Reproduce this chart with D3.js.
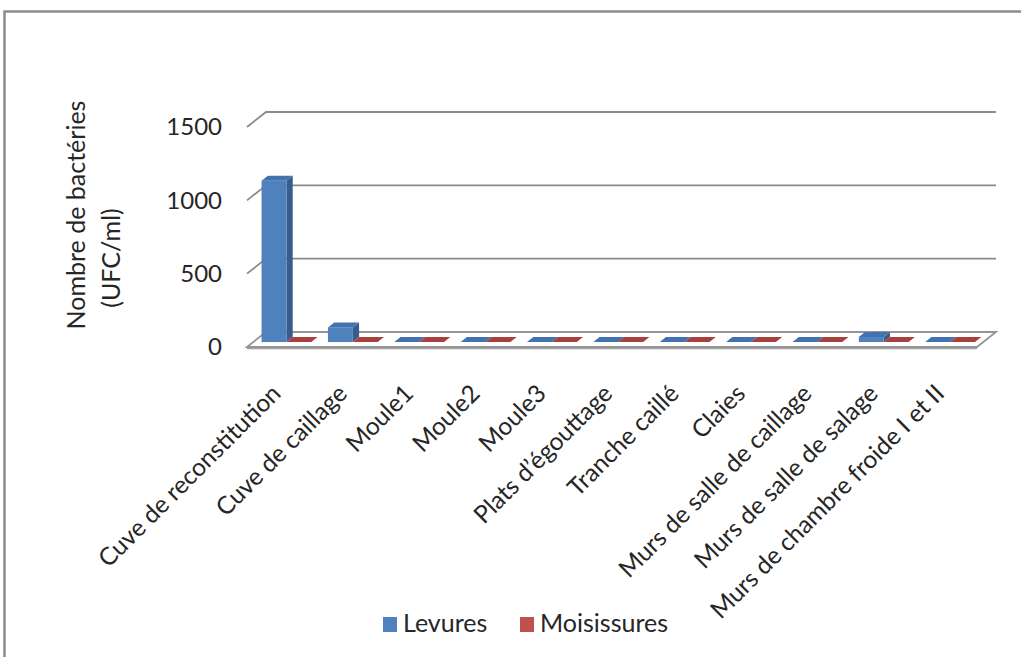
<!DOCTYPE html>
<html>
<head>
<meta charset="utf-8">
<script src="https://cdn.jsdelivr.net/npm/d3@7"></script>
<style>
  html, body { margin: 0; padding: 0; background: #ffffff; }
  svg { display: block; }
  text { font-family: Lato, "Open Sans", sans-serif; fill: #262626; }
</style>
</head>
<body>
<svg id="chart" width="1021" height="657"></svg>
<script>
// Sampling sites
const categories = [
  "Cuve de reconstitution",
  "Cuve de caillage",
  "Moule1",
  "Moule2",
  "Moule3",
  "Plats d\u2019égouttage",
  "Tranche caillé",
  "Claies",
  "Murs de salle de caillage",
  "Murs de salle de salage",
  "Murs de chambre froide I et II"
];
// Counts (UFC/ml)
const seriesNames = ["Levures", "Moisissures"];
const levures     = [1100, 100, 0, 0, 0, 0, 0, 0, 0, 35, 0];
const moisissures = [0, 0, 0, 0, 0, 0, 0, 0, 0, 0, 0];
const yTicks = [0, 500, 1000, 1500];
const yTitle = ["Nombre de bactéries", "(UFC/ml)"];

const colors = {
  Levures:     { front: "#4f81bd", side: "#385d8a", top: "#4273b0" },
  Moisissures: { front: "#c0504d", side: "#8c3836", top: "#a8413e" }
};

const svg = d3.select("#chart");

// Outer chart frame
svg.append("path")
  .attr("d", "M4.5,657 L4.5,11.5 L1021,11.5")
  .attr("fill", "none").attr("stroke", "#8c8c8c").attr("stroke-width", 2.5);

// 3D plot geometry: front plane plus depth offset toward the back wall
const frontLeft = 247, frontRight = 977;
const depth = { dx: 19, dy: -15 };
const y = d3.scaleLinear().domain([0, 1500]).range([347, 127]);

const x0 = d3.scaleBand().domain(categories)
  .range([frontLeft, frontRight]).paddingInner(0.25).paddingOuter(0.125);
const x1 = d3.scaleBand().domain(seriesNames).range([0, x0.bandwidth()]);

const grid = svg.append("g");
// Back wall gridlines and left-wall connectors
yTicks.forEach(t => {
  if (t === 0) return;
  const yf = y(t);
  grid.append("path")
    .attr("d", `M${frontLeft},${yf} L${frontLeft + depth.dx},${yf + depth.dy} L${frontRight + depth.dx},${yf + depth.dy}`)
    .attr("fill", "none").attr("stroke", "#8a8a8a").attr("stroke-width", 1.8);
});

// Floor slab
const y0 = y(0);
grid.append("path")
  .attr("d", `M${frontLeft},${y0} L${frontLeft + depth.dx},${y0 + depth.dy} L${frontRight + depth.dx},${y0 + depth.dy} L${frontRight},${y0} Z`)
  .attr("fill", "#ffffff").attr("stroke", "#959595").attr("stroke-width", 1.8);
grid.append("line")
  .attr("x1", frontLeft).attr("x2", frontRight)
  .attr("y1", y0 + 1.5).attr("y2", y0 + 1.5)
  .attr("stroke", "#a0a0a0").attr("stroke-width", 1.5);

// Bars sit between these depth fractions
const tFront = 0.33, tBack = 0.66;
const bars = [];
categories.forEach((c, i) => {
  bars.push({ c, s: "Levures", v: levures[i] });
  bars.push({ c, s: "Moisissures", v: moisissures[i] });
});

const barG = svg.append("g");
bars.forEach(b => {
  const xa = x0(b.c) + x1(b.s) + tFront * depth.dx;
  const w = x1.bandwidth();
  const bottom = y(0) + tFront * depth.dy;
  const top = y(b.v) + tFront * depth.dy;
  const ddx = (tBack - tFront) * depth.dx, ddy = (tBack - tFront) * depth.dy;
  const col = colors[b.s];
  const g = barG.append("g");
  if (b.v > 0) {
    g.append("path")
      .attr("d", `M${xa + w},${bottom} L${xa + w + ddx},${bottom + ddy} L${xa + w + ddx},${top + ddy} L${xa + w},${top} Z`)
      .attr("fill", col.side);
    g.append("rect")
      .attr("x", xa).attr("y", top).attr("width", w).attr("height", bottom - top)
      .attr("fill", col.front);
  }
  g.append("path")
    .attr("d", `M${xa},${top} L${xa + w},${top} L${xa + w + ddx},${top + ddy} L${xa + ddx},${top + ddy} Z`)
    .attr("fill", col.top);
});

// Y axis tick labels
svg.append("g").selectAll("text").data(yTicks).join("text")
  .attr("x", 222).attr("y", d => y(d))
  .attr("dy", "0.35em")
  .attr("text-anchor", "end")
  .style("font-size", "24px")
  .text(d => d);

// Y axis title (two lines)
const titlePos = [[85, 215], [120, 258]];
yTitle.forEach((t, i) => {
  svg.append("text")
    .attr("transform", `translate(${titlePos[i][0]},${titlePos[i][1]}) rotate(-90)`)
    .attr("text-anchor", "middle")
    .style("font-size", "25px")
    .text(t);
});

// Category labels, rotated
svg.append("g").selectAll("text").data(categories).join("text")
  .attr("transform", d => `translate(${x0(d) + x0.bandwidth() / 2 + 2},${395}) rotate(-45)`)
  .attr("text-anchor", "end")
  .style("font-size", "24.5px")
  .text(d => d);

// Legend
const legend = svg.append("g");
const legendItems = [
  { name: "Levures", x: 383 },
  { name: "Moisissures", x: 520 }
];
legendItems.forEach(it => {
  legend.append("rect")
    .attr("x", it.x).attr("y", 617).attr("width", 14).attr("height", 15)
    .attr("fill", colors[it.name].front);
  legend.append("text")
    .attr("x", it.x + 20).attr("y", 632)
    .style("font-size", "25px")
    .text(it.name);
});
</script>
</body>
</html>
